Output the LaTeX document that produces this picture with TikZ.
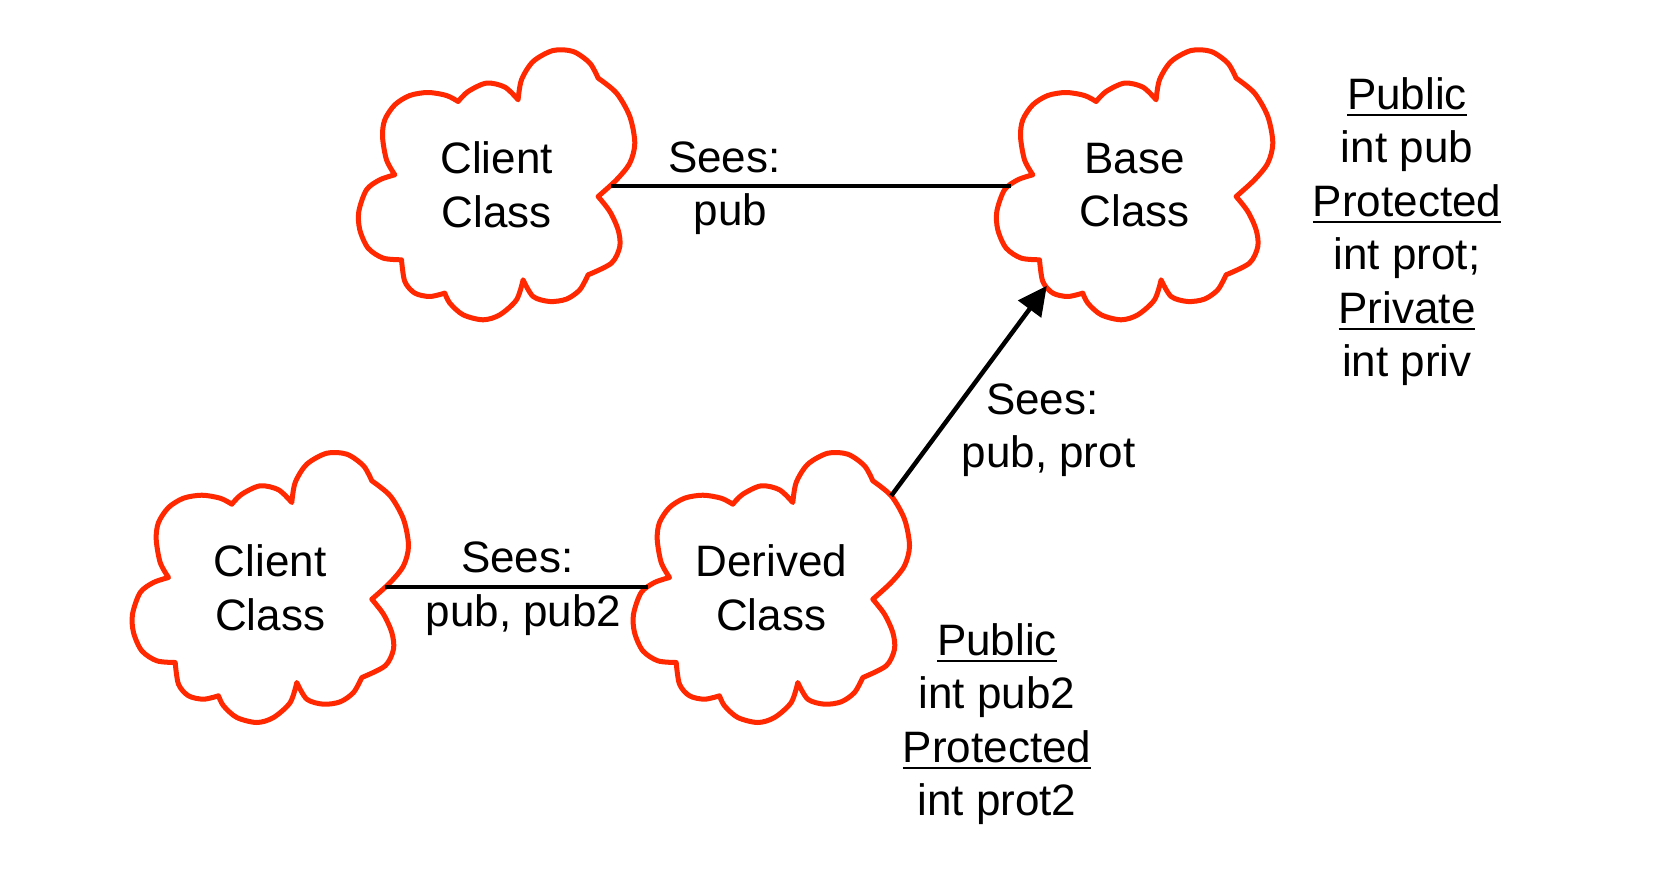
\documentclass[tikz,border=0pt]{standalone}
\usepackage{fontspec}
\setmainfont{Liberation Sans}
\usetikzlibrary{arrows.meta,calc}
\definecolor{cloudred}{RGB}{255,40,0}
\newsavebox\ulbox
\newcommand\myul[1]{\sbox\ulbox{#1}\rlap{\rule[-6.7pt]{\wd\ulbox}{1.8pt}}\usebox\ulbox}
\tikzset{
  cloudline/.style={draw=cloudred, line width=5pt, line join=round},
  cloudnode/.style={minimum width=277pt, minimum height=270pt, inner sep=0pt, align=center},
  txt/.style={align=center, inner sep=0pt},
  conn/.style={line width=4.5pt},
  arrowconn/.style={conn, -{Triangle[length=29pt,width=28pt]}},
  cloudpic/.pic={
    \draw[cloudline] plot[smooth] coordinates {(37,125) (28.7,110) (24.7,86.7) (27,70) (37,55) (52,45.7) (70.3,42.7) (88.7,45.7) (100.3,51.7)}
     -- plot[smooth] coordinates {(100.3,51.7) (110.3,41.7) (128.7,33.3) (147,37.3) (160.3,50)}
     -- plot[smooth] coordinates {(160.3,50) (163.7,30) (175.3,11.7) (195.3,0.7) (215.3,1.7) (232,13.3) (240.3,28.3)}
     -- plot[smooth] coordinates {(240.3,28.3) (258.7,43.3) (272,66.7) (277,93.3) (272,113.3) (258.7,130) (240.3,146.7)}
     -- plot[smooth] coordinates {(240.3,146.7) (252,161.7) (260.3,180) (262,196.7) (253.7,213.3) (230.3,225)}
     -- plot[smooth] coordinates {(230.3,225) (222,240) (208.7,249.3) (192,251.7) (175.3,246.7) (165.3,230)}
     -- plot[smooth] coordinates {(165.3,230) (158.7,250) (142,265) (125.3,270) (105.3,265) (92,253.3) (87,243.3)}
     -- plot[smooth] coordinates {(87,243.3) (72,246.7) (57,243.3) (47,231.7) (43.7,210)}
     -- plot[smooth] coordinates {(43.7,210) (25.3,208.3) (10.3,198.3) (2,180) (1,161.7) (8.7,140) (22,130) (37,125)}
     -- cycle;
  }
}
\begin{document}
\begin{tikzpicture}[x=1pt,y=-1pt, every node/.style={font=\fontsize{44}{53.5}\selectfont}]
\fill[white] (0,0) rectangle (1669,893);
\useasboundingbox (0,0) rectangle (1669,893);

% clouds
\node[cloudnode] (c1) at (496.5,185) {Client\\Class};
\node[cloudnode] (c2) at (1134.5,185) {Base\\Class};
\node[cloudnode] (c3) at (270.2,587.7) {Client\\Class};
\node[cloudnode] (c4) at (771.2,587.7) {Derived\\Class};
\pic at (c1.north west) {cloudpic};
\pic at (c2.north west) {cloudpic};
\pic at (c3.north west) {cloudpic};
\pic at (c4.north west) {cloudpic};

% attach points on the outlines
\coordinate (c1r) at ($(c1.north west)+(253,136)$);
\coordinate (c2l) at ($(c2.north west)+(15.5,136)$);
\coordinate (c3r) at ($(c3.north west)+(253,134.5)$);
\coordinate (c4l) at ($(c4.north west)+(15.5,134.5)$);
\coordinate (c4t) at ($(c4.north west)+(258.7,43.3)$);
\coordinate (c2b) at ($(c2.north west)+(51,236)$);

% connectors
\draw[conn] (c1r) -- (c2l);
\draw[conn] (c3r) -- (c4l);
\draw[arrowconn] (c4t) -- (c2b);

% labels
\node[txt] (s1) at (730.5,188) {Sees:\kern.278em\\pub};
\node[txt] (s2) at (523.5,588.7) {Sees:\kern.278em\\pub, pub2};
\node[txt] (s3) at (1048.5,430.4) {Sees:\kern.278em\\pub, prot};

% member lists
\node[txt] (m1) at (1407,231.4) {\myul{Public}\\int pub\\\myul{Protected}\\int prot;\\\myul{Private}\\int priv};
\node[txt] (m2) at (997,723.9) {\myul{Public}\\int pub2\\\myul{Protected}\\int prot2};
\end{tikzpicture}
\end{document}
